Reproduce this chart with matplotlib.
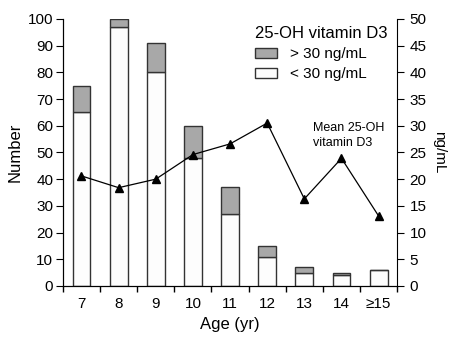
import numpy as np
import matplotlib
matplotlib.use("Agg")
import matplotlib.pyplot as plt
from matplotlib.patches import Patch

plt.rcParams['font.family'] = ['Liberation Sans', 'DejaVu Sans']

# data
ages = ['7', '8', '9', '10', '11', '12', '13', '14', '≥15']
below_30 = [65, 97, 80, 48, 27, 11, 5, 4, 6]      # < 30 ng/mL
above_30 = [10, 3, 11, 12, 10, 4, 2, 1, 0]        # > 30 ng/mL
mean_vitd = [20.6, 18.4, 20.0, 24.6, 26.6, 30.5, 16.3, 23.9, 13.1]

edge = '#333333'
grey = '#a8a8a8'

fig = plt.figure(figsize=(4.56, 3.38), dpi=100)
ax = fig.add_axes([0.138, 0.154, 0.733, 0.790])
x = np.arange(len(ages))

ax.bar(x, below_30, width=0.48, color='#fdfdfd', edgecolor=edge, linewidth=1)
ax.bar(x, above_30, width=0.48, bottom=below_30, color=grey, edgecolor=edge, linewidth=1)

ax.set_xlim(-0.5, len(ages) - 0.5)
ax.set_ylim(0, 100)
ax.set_yticks(range(0, 101, 10))
ax.set_xticks(x)
ax.set_xticklabels(ages)
ax.set_xticks(np.arange(-0.5, len(ages)), minor=True)
ax.tick_params(axis='x', which='major', length=0, pad=8, labelsize=11)
ax.tick_params(axis='x', which='minor', length=4, direction='out', width=1)
ax.tick_params(axis='y', length=5, direction='out', labelsize=11, pad=2)
ax.spines['top'].set_visible(False)
ax.spines['right'].set_visible(False)
ax.set_xlabel('Age (yr)', fontsize=12, labelpad=4)
ax.set_ylabel('Number', fontsize=12, labelpad=4)

ax2 = ax.twinx()
ax2.plot(x, mean_vitd, color='black', linewidth=0.9, marker='^', markersize=6)
ax2.set_ylim(0, 50)
ax2.set_yticks(range(0, 51, 5))
ax2.tick_params(axis='y', length=5, direction='out', labelsize=11, pad=4)
ax2.spines['top'].set_visible(False)
ax2.set_ylabel('ng/mL', fontsize=11, rotation=270, labelpad=14)

ax2.text(6.24, 28.2, 'Mean 25-OH\nvitamin D3', fontsize=9, ha='left', va='center',
         linespacing=1.3)

handles = [Patch(facecolor=grey, edgecolor=edge, label='> 30 ng/mL'),
           Patch(facecolor='#fdfdfd', edgecolor=edge, label='< 30 ng/mL')]
leg = fig.legend(handles=handles, title='25-OH vitamin D3', frameon=False,
                 loc='upper left', bbox_to_anchor=(0.543, 0.945), fontsize=11,
                 title_fontsize=12, handlelength=1.45, handleheight=0.6,
                 borderpad=0.0, labelspacing=0.4, handletextpad=0.85,
                 alignment='left')

fig.savefig('out.png', dpi=100)
